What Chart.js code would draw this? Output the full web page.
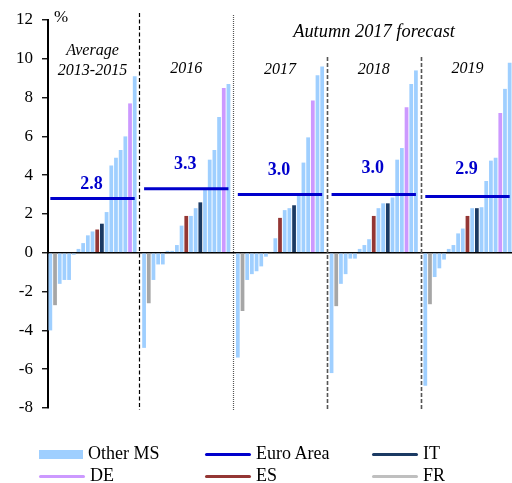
<!DOCTYPE html>
<html lang="en">
<head>
<meta charset="UTF-8">
<title>Current account balances, euro area member states</title>
<script src="https://cdn.jsdelivr.net/npm/chart.js@4.4.1/dist/chart.umd.min.js"></script>
<style>
  body { margin: 0; background: #fff; font-family: "Liberation Serif", "Times New Roman", serif; }
  #wrap { position: relative; width: 512px; height: 483px; }
  #legend { position: absolute; left: 0; top: 0; width: 512px; height: 483px; pointer-events: none; }
  .item { position: absolute; font-size: 18px; line-height: 20px; color: #000; white-space: nowrap; }
  .sw { display: inline-block; vertical-align: middle; margin-right: 5px; }
</style>
</head>
<body>
<div id="wrap">
  <canvas id="chart" width="512" height="483"></canvas>
  <div id="legend"></div>
</div>

<script>
// panel titles and euro area aggregate per panel
const panels = ['Average|2013-2015', '2016', '2017', '2018', '2019'];
const euroArea = [2.8, 3.3, 3.0, 3.0, 2.9];

// member state values, sorted within each panel (%)
const avg1315 = [-4.0, -2.7, -1.6, -1.4, -1.4, -0.1, 0.2, 0.5, 0.9, 1.1, 1.2, 1.5, 2.1, 4.5, 4.9, 5.3, 6.0, 7.7, 9.1];
const y2016 = [-4.9, -2.6, -1.4, -0.6, -0.6, 0.1, 0.1, 0.4, 1.4, 1.9, 1.9, 2.3, 2.6, 3.3, 4.8, 5.3, 7.0, 8.5, 8.7];
const y2017 = [-5.4, -3.0, -1.4, -1.1, -0.95, -0.7, -0.2, 0.05, 0.75, 1.8, 2.2, 2.3, 2.45, 2.95, 4.65, 5.95, 7.85, 9.15, 9.6];
const y2018 = [-6.2, -2.75, -1.6, -1.1, -0.3, -0.3, 0.2, 0.4, 0.7, 1.9, 2.3, 2.55, 2.55, 2.85, 4.8, 5.4, 7.5, 8.7, 9.4];
const y2019 = [-6.85, -2.65, -1.25, -0.8, -0.35, 0.2, 0.4, 1.0, 1.25, 1.9, 2.3, 2.3, 2.35, 3.7, 4.75, 4.9, 7.2, 8.45, 9.8];

// rank of the highlighted countries inside each sorted panel
const frRank = [1, 1, 1, 1, 1];
const esRank = [10, 9, 9, 9, 9];
const itRank = [11, 12, 12, 12, 11];
const deRank = [17, 17, 16, 16, 16];

const colors = {
    other: '#9FCFFF',
    euro: '#0000CC',
    IT: '#1B3A63',
    DE: '#CC99FF',
    ES: '#943634',
    FR: '#A6A6A6'
};

const seriesList = [avg1315, y2016, y2017, y2018, y2019];

// one category slot per bar, plus an empty slot between panels
const labels = [];
const barData = [];
const barColors = [];
const euroData = [];
seriesList.forEach((vals, p) => {
    vals.forEach((v, i) => {
        labels.push(panels[p] + ' ' + (i + 1));
        barData.push(v);
        euroData.push(euroArea[p]);
        let c = colors.other;
        if (i === frRank[p]) c = colors.FR;
        if (i === esRank[p]) c = colors.ES;
        if (i === itRank[p]) c = colors.IT;
        if (i === deRank[p]) c = colors.DE;
        barColors.push(c);
    });
    if (p < seriesList.length - 1) {
        labels.push('');
        barData.push(null);
        euroData.push(null);
        barColors.push(colors.other);
    }
});

const serif = '"Liberation Serif", "Times New Roman", serif';

const annotations = {
    id: 'annotations',
    afterDraw(chart) {
        const ctx = chart.ctx;
        const x = chart.scales.x;
        const y = chart.scales.y;
        const bottom = y.getPixelForValue(-8) + 2;

        // panel dividers
        const dividers = [
            { slot: 19, top: 13, dash: [4, 2.5], color: '#000', w: 1.2 },
            { slot: 39, top: 15, dash: [1, 1], color: '#555', w: 1.2 },
            { slot: 59, top: 57, dash: [4, 2], color: '#555', w: 1.6 },
            { slot: 79, top: 57, dash: [4, 2], color: '#555', w: 1.6 }
        ];
        ctx.save();
        dividers.forEach(d => {
            const px = Math.round(x.getPixelForValue(d.slot)) + 0.5;
            ctx.beginPath();
            ctx.setLineDash(d.dash);
            ctx.strokeStyle = d.color;
            ctx.lineWidth = d.w;
            ctx.moveTo(px, d.top);
            ctx.lineTo(px, bottom);
            ctx.stroke();
        });
        ctx.setLineDash([]);

        // unit
        ctx.fillStyle = '#000';
        ctx.font = '17px ' + serif;
        ctx.textAlign = 'left';
        ctx.textBaseline = 'alphabetic';
        ctx.fillText('%', 54, 22);

        // panel titles
        ctx.font = 'italic 16px ' + serif;
        ctx.textAlign = 'center';
        const titleBase = [75, 73, 74, 74, 73];
        panels.forEach((t, p) => {
            const cx = x.getPixelForValue(p * 20 + 9);
            const lines = t.split('|');
            lines.forEach((ln, k) => {
                ctx.fillText(ln, cx, titleBase[p] - (lines.length - 1 - k) * 20);
            });
        });
        ctx.font = 'italic 18.4px ' + serif;
        ctx.fillText('Autumn 2017 forecast', x.getPixelForValue(68) + 5, 37);

        // euro area value labels
        const lift = [9, 20, 20, 22, 23];
        ctx.font = 'bold 18px ' + serif;
        ctx.fillStyle = colors.euro;
        euroArea.forEach((v, p) => {
            const cx = x.getPixelForValue(p * 20 + 9) - 1;
            ctx.fillText(v.toFixed(1), cx, y.getPixelForValue(v) - lift[p]);
        });
        ctx.restore();
    }
};

new Chart(document.getElementById('chart'), {
    data: {
        labels: labels,
        datasets: [
            {
                type: 'line',
                label: 'Euro Area',
                data: euroData,
                borderColor: colors.euro,
                borderWidth: 3,
                pointRadius: 0,
                spanGaps: false
            },
            {
                type: 'bar',
                label: 'Member states',
                data: barData,
                backgroundColor: barColors,
                borderWidth: 0,
                categoryPercentage: 1.0,
                barPercentage: 0.8
            }
        ]
    },
    options: {
        responsive: false,
        animation: false,
        layout: { padding: { top: 20, bottom: 75, left: 0, right: 0 } },
        plugins: {
            legend: { display: false },
            tooltip: { enabled: false }
        },
        scales: {
            x: {
                display: false
            },
            y: {
                min: -8,
                max: 12,
                afterFit(scale) { scale.width = 48; },
                ticks: {
                    stepSize: 2,
                    color: '#000',
                    padding: 9,
                    font: { family: serif, size: 17 }
                },
                border: { display: true, color: '#000', width: 2 },
                grid: {
                    tickLength: 6,
                    tickColor: '#000',
                    tickWidth: 1.3,
                    color: c => (c.tick && c.tick.value === 0 ? '#000' : 'rgba(0,0,0,0)'),
                    lineWidth: 1.5
                }
            }
        }
    },
    plugins: [annotations]
});

// legend
const legendItems = [
    { text: 'Other MS', color: colors.other, box: true, col: 0, row: 0 },
    { text: 'Euro Area', color: colors.euro, col: 1, row: 0 },
    { text: 'IT', color: colors.IT, col: 2, row: 0 },
    { text: 'DE', color: colors.DE, col: 0, row: 1 },
    { text: 'ES', color: colors.ES, col: 1, row: 1 },
    { text: 'FR', color: '#BFBFBF', col: 2, row: 1 }
];
const colX = [39, 205, 372];
const rowY = [443, 465];
const legend = document.getElementById('legend');
legendItems.forEach(it => {
    const d = document.createElement('div');
    d.className = 'item';
    d.style.left = colX[it.col] + 'px';
    d.style.top = rowY[it.row] + 'px';
    const sw = document.createElement('span');
    sw.className = 'sw';
    sw.style.background = it.color;
    if (it.box) {
        sw.style.width = '44px';
        sw.style.height = '9px';
    } else {
        sw.style.width = '46px';
        sw.style.height = '3px';
        sw.style.borderRadius = '2px';
    }
    d.appendChild(sw);
    d.appendChild(document.createTextNode(it.text));
    legend.appendChild(d);
});
</script>
</body>
</html>
